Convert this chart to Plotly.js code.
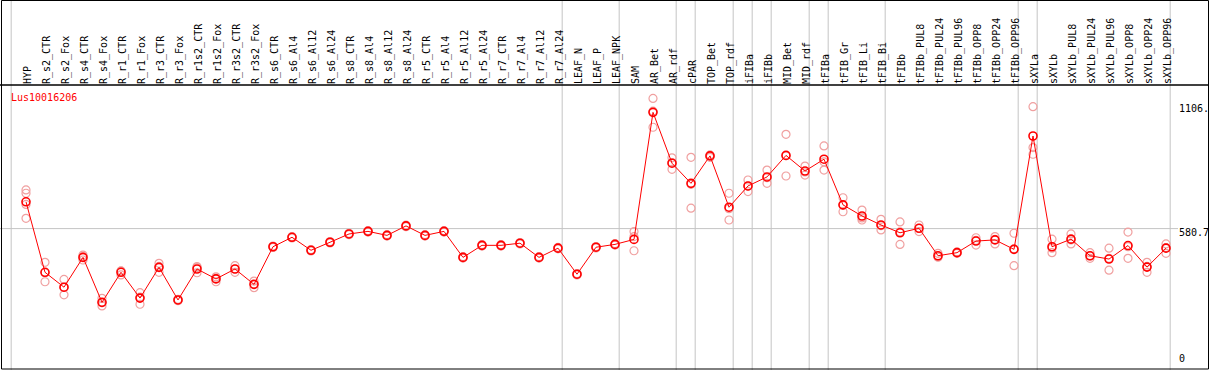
<!DOCTYPE html>
<html>
<head>
<meta charset="utf-8">
<script src="https://cdn.plot.ly/plotly-3.0.1.min.js"></script>
<style>
  html, body { margin: 0; padding: 0; background: #fff; }
  #chart { width: 1209px; height: 370px; }
</style>
</head>
<body>
<div id="chart"></div>
<script>
const title = 'Lus10016206';
const categories = ['HYP','R_s2_CTR','R_s2_Fox','R_s4_CTR','R_s4_Fox','R_r1_CTR','R_r1_Fox','R_r3_CTR','R_r3_Fox',
  'R_r1s2_CTR','R_r1s2_Fox','R_r3s2_CTR','R_r3s2_Fox','R_s6_CTR','R_s6_Al4','R_s6_Al12','R_s6_Al24',
  'R_s8_CTR','R_s8_Al4','R_s8_Al12','R_s8_Al24','R_r5_CTR','R_r5_Al4','R_r5_Al12','R_r5_Al24',
  'R_r7_CTR','R_r7_Al4','R_r7_Al12','R_r7_Al24','LEAF_N','LEAF_P','LEAF_NPK','SAM','AR_Bet','AR_rdf',
  'cPAR','TOP_Bet','TOP_rdf','iFIBa','iFIBb','MID_Bet','MID_rdf','tFIBa','tFIB_Gr','tFIB_Li','tFIB_Bi',
  'tFIBb','tFIBb_PUL8','tFIBb_PUL24','tFIBb_PUL96','tFIBb_OPP8','tFIBb_OPP24','tFIBb_OPP96',
  'sXYLa','sXYLb','sXYLb_PUL8','sXYLb_PUL24','sXYLb_PUL96','sXYLb_OPP8','sXYLb_OPP24','sXYLb_OPP96'];

const means = [694,396,333,459,269,396,287,417,279,410,368,410,345,504,544,489,523,558,569,552,592,
  552,569,459,510,510,519,459,498,388,502,514,535,1072,857,772,888,671,761,799,890,824,874,681,634,596,
  563,582,466,479,528,533,493,972,504,536,466,452,509,418,498];

const rep1 = [744,438,366,469,286,402,310,434,282,420,371,424,359,507,547,492,526,561,572,555,595,
  555,572,462,513,513,522,462,501,391,505,517,568,1131,880,882,892,730,786,828,979,845,930,711,659,620,
  609,596,476,482,542,547,561,1096,536,558,479,498,566,438,516];
const rep2 = [730,356,301,448,254,385,261,396,276,394,356,396,331,501,541,486,520,555,566,549,589,
  549,566,456,507,507,516,456,495,385,499,511,547,1009,831,667,882,617,737,772,803,807,828,652,617,575,
  514,568,462,476,511,516,424,923,479,516,455,405,455,396,476];
const rep3 = [683,394,332,461,268,401,291,421,279,416,377,410,345,504,544,489,523,558,569,552,592,
  552,569,459,510,510,519,459,498,388,502,514,487,1077,860,768,889,665,760,796,889,820,863,679,626,593,
  567,582,460,479,531,535,495,895,498,533,465,455,504,421,500];
const rep4 = [624,null,null,null,null,null,null,null,null,null,null,null,null,null,null,null,null,null,null,null,null,
  null,null,null,null,null,null,null,null,null,null,null,null,null,null,null,null,null,null,null,null,null,null,null,null,null,
  null,null,null,null,null,null,null,null,null,null,null,null,null,null,null];

// group separators drawn just after these category indices
const separatorsAfter = [-1, 28, 31, 34, 35, 37, 38, 39, 41, 42, 45, 52, 53, 60];
const yTickVals = [0, 580.7, 1106];
const yTickText = ['0', '580.7', '1106.'];
const refLine = 580.7;

const W = 1209, H = 370, TOP = 85, BOT = 369;
const FONT = 'DejaVu Sans Mono, monospace';
const pyToPaper = py => (BOT - py) / (BOT - TOP);

const repTraces = [rep1, rep2, rep3, rep4].map(r => ({
  x: categories, y: r, type: 'scatter', mode: 'markers', cliponaxis: false,
  marker: { symbol: 'circle-open', size: 8, color: '#f0a0a0', line: { width: 1.2, color: '#f0a0a0' } },
  hoverinfo: 'skip', showlegend: false
}));
const meanTrace = {
  x: categories, y: means, type: 'scatter', mode: 'lines+markers', cliponaxis: false,
  line: { color: '#ff0000', width: 1 },
  marker: { symbol: 'circle-open', size: 8, color: '#ff0000', line: { width: 1.6, color: '#ff0000' } },
  showlegend: false
};

const shapes = [];
separatorsAfter.forEach(i => {
  shapes.push({ type: 'line', xref: 'x', yref: 'paper', x0: i + 0.22, x1: i + 0.22,
    y0: pyToPaper(H), y1: pyToPaper(0), line: { color: '#c4c4c4', width: 1 }, layer: 'below' });
});
shapes.push({ type: 'line', xref: 'paper', yref: 'y', x0: 0, x1: 1178 / W, y0: refLine, y1: refLine,
  line: { color: '#c4c4c4', width: 1 }, layer: 'below' });
// frame and header divider
shapes.push({ type: 'rect', xref: 'paper', yref: 'paper', x0: 1.5 / W, x1: 1208.5 / W,
  y0: pyToPaper(369), y1: pyToPaper(0.5), line: { color: '#000', width: 1 } });
shapes.push({ type: 'line', xref: 'paper', yref: 'paper', x0: 0, x1: 1, y0: 1, y1: 1,
  line: { color: '#000', width: 1.5 } });

const annotations = [{
  text: title, xref: 'paper', yref: 'paper', x: 9 / W, y: pyToPaper(97), xanchor: 'left', yanchor: 'middle',
  showarrow: false, font: { family: FONT, size: 10, color: '#ff0000' }
}];
yTickVals.forEach((v, k) => {
  annotations.push({
    text: yTickText[k], xref: 'paper', yref: 'y', x: 1177 / W, y: v, xanchor: 'left',
    yanchor: v === 0 ? 'bottom' : 'middle', yshift: v === 0 ? 0 : -4,
    showarrow: false, font: { family: FONT, size: 10, color: '#000' }
  });
});

const layout = {
  width: W, height: H,
  margin: { l: 0, r: 0, t: TOP, b: H - BOT, pad: 0 },
  paper_bgcolor: '#fff', plot_bgcolor: '#fff',
  xaxis: {
    type: 'category', side: 'top', range: [-26 / 19, (W - 26) / 19],
    tickangle: -90, dtick: 1, ticks: '', showgrid: false, zeroline: false, showline: false,
    tickfont: { family: FONT, size: 10, color: '#000' }, automargin: false,
    ticklabelstandoff: 0, ticklabelshift: 2
  },
  yaxis: {
    range: [-12.7, 1187.6], showticklabels: false, ticks: '', showgrid: false, zeroline: false,
    showline: false, automargin: false
  },
  shapes: shapes, annotations: annotations
};

Plotly.newPlot('chart', repTraces.concat([meanTrace]), layout, { staticPlot: true, displayModeBar: false });
</script>
</body>
</html>
